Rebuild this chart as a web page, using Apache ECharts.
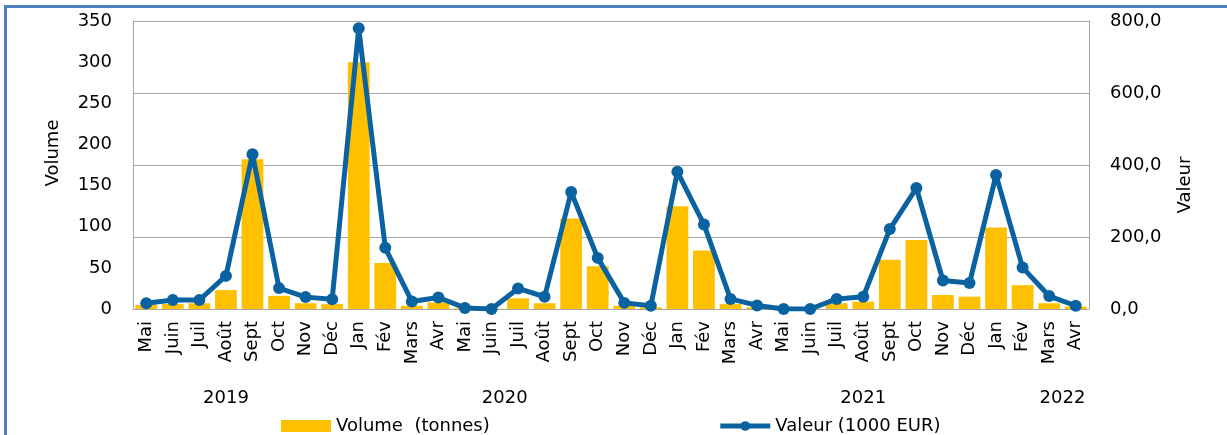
<!DOCTYPE html>
<html>
<head>
<meta charset="utf-8">
<script src="https://cdn.jsdelivr.net/npm/echarts@6/dist/echarts.min.js"></script>
<style>
  html, body { margin: 0; padding: 0; background: #fff; }
  #frame {
    position: absolute; left: 4px; top: 5px; right: 0; bottom: 0;
    border-left: 3px solid #4F81BD; border-top: 3px solid #4F81BD;
  }
  #chart { position: absolute; left: 0; top: 0; width: 1227px; height: 435px; }
</style>
</head>
<body>
<div id="frame"></div>
<div id="chart"></div>
<script>
  // mois (mai 2019 - avril 2022)
  var months = ['Mai', 'Juin', 'Juil', 'Août', 'Sept', 'Oct', 'Nov', 'Déc',
    'Jan', 'Fév', 'Mars', 'Avr', 'Mai', 'Juin', 'Juil', 'Août', 'Sept', 'Oct', 'Nov', 'Déc',
    'Jan', 'Fév', 'Mars', 'Avr', 'Mai', 'Juin', 'Juil', 'Août', 'Sept', 'Oct', 'Nov', 'Déc',
    'Jan', 'Fév', 'Mars', 'Avr'];
  var years = ['2019', '2020', '2021', '2022'];
  var yearPos = [3.5, 14, 27.5, 35];   // position des années sur l'axe des mois

  // volume (tonnes)
  var volume = [5, 6, 7, 23, 182, 16, 7, 6,
    300, 56, 4, 8, 1, 0.5, 13, 7, 110, 52, 4, 2,
    125, 71, 6, 2, 0.5, 0.5, 7, 9, 60, 84, 17, 15,
    99, 29, 7, 3];
  // valeur (1000 EUR)
  var valeur = [16, 25, 25, 92, 430, 58, 33, 27,
    780, 170, 21, 32, 3, 0, 57, 34, 325, 142, 17, 9,
    381, 235, 28, 10, 0, 0, 28, 34, 222, 336, 79, 72,
    372, 115, 36, 9];

  var volumeTicks = [0, 350, 50];
  var valeurTicks = [0, 800, 200];

  var font = 'DejaVu Sans';
  var chart = echarts.init(document.getElementById('chart'));
  chart.setOption({
    animation: false,
    textStyle: { fontFamily: font, fontSize: 18, color: '#000' },
    grid: { left: 133, right: 138, top: 21, bottom: 126 },
    legend: {
      top: 412, left: 276,
      itemWidth: 50, itemHeight: 12, itemGap: 228,
      textStyle: { fontFamily: font, fontSize: 18, color: '#000' },
      lineStyle: { width: 5 },
      data: [
        { name: 'Volume  (tonnes)', icon: 'rect' },
        { name: 'Valeur (1000 EUR)' }
      ]
    },
    xAxis: [{
      type: 'category',
      data: months,
      axisLine: { lineStyle: { color: '#A6A6A6', width: 1 } },
      axisTick: { show: false },
      axisLabel: { rotate: 90, interval: 0, margin: 12, fontFamily: font, fontSize: 18, color: '#000' }
    }, {
      type: 'value',
      position: 'bottom',
      min: 0, max: 36, interval: 0.5,
      axisLine: { show: false },
      axisTick: { show: false },
      splitLine: { show: false },
      axisLabel: {
        margin: 80, fontFamily: font, fontSize: 18, color: '#000',
        showMinLabel: true, showMaxLabel: true,
        formatter: function (v) {
          var i = yearPos.indexOf(v);
          return i >= 0 ? years[i] : '';
        }
      }
    }],
    yAxis: [{
      type: 'value',
      name: 'Volume',
      nameLocation: 'middle',
      nameRotate: 90,
      nameGap: 71,
      nameTextStyle: { fontFamily: font, fontSize: 18, color: '#000', padding: [0, 0, 0, 24] },
      min: volumeTicks[0], max: volumeTicks[1], interval: volumeTicks[2],
      axisLine: { show: true, lineStyle: { color: '#A6A6A6', width: 1 } },
      axisTick: { show: false },
      splitLine: { show: false },
      axisLabel: { margin: 21, fontFamily: font, fontSize: 18, color: '#000' }
    }, {
      type: 'value',
      name: 'Valeur',
      nameLocation: 'middle',
      nameRotate: 90,
      nameGap: 87,
      nameTextStyle: { fontFamily: font, fontSize: 18, color: '#000', padding: [0, 40, 0, 0] },
      min: valeurTicks[0], max: valeurTicks[1], interval: valeurTicks[2],
      position: 'right',
      axisLine: { show: true, lineStyle: { color: '#A6A6A6', width: 1 } },
      axisTick: { show: false },
      splitLine: { show: true, lineStyle: { color: '#A6A6A6', width: 1 } },
      axisLabel: {
        margin: 21, fontFamily: font, fontSize: 18, color: '#000',
        formatter: function (v) { return v.toFixed(1).replace('.', ','); }
      }
    }],
    series: [{
      name: 'Volume  (tonnes)',
      type: 'bar',
      xAxisIndex: 0,
      yAxisIndex: 0,
      barWidth: '82%',
      itemStyle: { color: '#FFC000' },
      data: volume
    }, {
      name: 'Valeur (1000 EUR)',
      type: 'line',
      xAxisIndex: 0,
      yAxisIndex: 1,
      symbol: 'circle',
      symbolSize: 12,
      lineStyle: { color: '#0A63A0', width: 5 },
      itemStyle: { color: '#0A63A0' },
      data: valeur
    }]
  });
</script>
</body>
</html>
